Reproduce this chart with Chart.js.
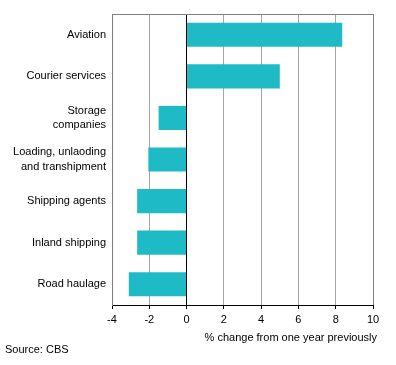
<!DOCTYPE html>
<html>
<head>
<meta charset="utf-8">
<script src="https://cdn.jsdelivr.net/npm/chart.js@4/dist/chart.umd.min.js"></script>
<style>
  html, body { margin: 0; padding: 0; background: #fff; }
  #wrap { width: 396px; height: 365px; }
</style>
</head>
<body>
<div id="wrap"><canvas id="chart" width="396" height="365"></canvas></div>
<script>
// chart data
const categories = [
    'Aviation',
    'Courier services',
    ['Storage', 'companies'],
    ['Loading, unlaoding', 'and transhipment'],
    'Shipping agents',
    'Inland shipping',
    'Road haulage'
];
const changeValues = [8.35, 5.0, -1.5, -2.05, -2.65, -2.65, -3.1];
const xTicks = [-4, -2, 0, 2, 4, 6, 8, 10];
const axisTitle = '% change from one year previously';
const sourceText = 'Source: CBS';

const fontFamily = 'Arial, "Liberation Sans", sans-serif';

// extra texts and plot frame
const extrasPlugin = {
    id: 'extras',
    afterDraw(chart) {
        const ctx = chart.ctx;
        const area = chart.chartArea;
        ctx.save();
        ctx.strokeStyle = '#808080';
        ctx.lineWidth = 1;
        ctx.beginPath();
        ctx.moveTo(Math.round(area.left) + 0.5, Math.round(area.bottom));
        ctx.lineTo(Math.round(area.left) + 0.5, Math.round(area.top) + 0.5);
        ctx.lineTo(Math.round(area.right) + 0.5, Math.round(area.top) + 0.5);
        ctx.lineTo(Math.round(area.right) + 0.5, Math.round(area.bottom));
        ctx.stroke();

        ctx.fillStyle = '#000';
        ctx.font = '11px ' + fontFamily;
        ctx.textBaseline = 'middle';
        ctx.textAlign = 'right';
        ctx.fillText(axisTitle, 377, 338);
        ctx.textAlign = 'left';
        ctx.fillText(sourceText, 5, 350);
        ctx.restore();
    }
};

new Chart(document.getElementById('chart'), {
    type: 'bar',
    data: {
        labels: categories,
        datasets: [{
            data: changeValues,
            backgroundColor: '#1ebac5',
            borderWidth: 0,
            barPercentage: 0.58,
            categoryPercentage: 1
        }]
    },
    options: {
        indexAxis: 'y',
        responsive: false,
        animation: false,
        events: [],
        layout: { padding: { top: 14, right: 23, left: 0, bottom: 0 } },
        plugins: {
            legend: { display: false },
            tooltip: { enabled: false }
        },
        scales: {
            x: {
                min: -4,
                max: 10,
                afterBuildTicks: (scale) => {
                    scale.ticks = xTicks.map(v => ({ value: v }));
                },
                afterFit: (scale) => { scale.height = 60; },
                grid: {
                    color: (c) => c.tick && c.tick.value === 0 ? '#000' : '#a6a6a6',
                    tickColor: '#000',
                    tickLength: 4,
                    drawTicks: true
                },
                border: { color: '#000' },
                ticks: {
                    color: '#000',
                    padding: 4,
                    font: { family: fontFamily, size: 11 }
                }
            },
            y: {
                afterFit: (scale) => { scale.width = 112; },
                grid: { display: false, drawTicks: false, tickLength: 0 },
                border: { color: '#808080' },
                ticks: {
                    color: '#000',
                    padding: 6,
                    font: { family: fontFamily, size: 11, lineHeight: 1.35 }
                }
            }
        }
    },
    plugins: [extrasPlugin]
});
</script>
</body>
</html>
